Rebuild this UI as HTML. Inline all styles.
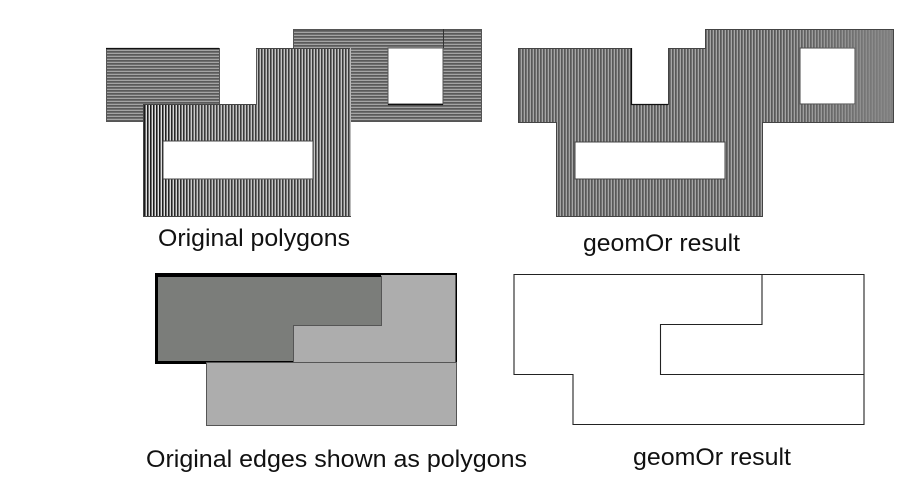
<!DOCTYPE html>
<html><head><meta charset="utf-8"><style>html,body{margin:0;padding:0;background:#fff}svg{display:block}text{font-family:"Liberation Sans",sans-serif;fill:#111;font-size:24px}</style></head><body>
<svg xmlns="http://www.w3.org/2000/svg" width="900" height="498" viewBox="0 0 900 498">
<defs>
<pattern id="h" width="3" height="3" patternUnits="userSpaceOnUse"><rect width="3" height="3" fill="#5a5a5a"/><rect y="1" width="3" height="1" fill="#6e6e6e"/><rect y="2" width="3" height="1" fill="#a4a4a4"/></pattern>
<pattern id="v" width="3" height="3" patternUnits="userSpaceOnUse"><rect width="3" height="3" fill="#1c1c1c"/><rect x="1" width="1" height="3" fill="#707070"/><rect x="2" width="1" height="3" fill="#e0e0e0"/></pattern>
<pattern id="r" width="3" height="3" patternUnits="userSpaceOnUse"><rect width="3" height="3" fill="#585858"/><rect x="1" width="1" height="3" fill="#707070"/><rect x="2" width="1" height="3" fill="#a6a6a6"/></pattern>
<linearGradient id="fade" gradientUnits="userSpaceOnUse" x1="780" y1="0" x2="893" y2="0"><stop offset="0" stop-color="#808080" stop-opacity="0"/><stop offset="1" stop-color="#848484" stop-opacity=".9"/></linearGradient>
<linearGradient id="fade2" gradientUnits="userSpaceOnUse" x1="160" y1="0" x2="200" y2="0"><stop offset="0" stop-color="#888" stop-opacity="0"/><stop offset="1" stop-color="#888" stop-opacity=".3"/></linearGradient>
</defs>

<!-- original polygons -->
<path d="M106.500 48.500H219.500V121.500H106.500Z" fill="url(#h)" stroke="#555" stroke-width="1"/>
<path fill-rule="evenodd" d="M293.500 29.500H481.500V121.500H293.500ZM388 48V104H443V48Z" fill="url(#h)" stroke="#555" stroke-width="1"/>
<path d="M443.500 29V48" stroke="#333" stroke-width="1"/>
<path d="M106 48.500H219" stroke="#111" stroke-width="1.2"/>
<path d="M388 104.500H443" stroke="#111" stroke-width="1.2"/>
<path fill-rule="evenodd" d="M143.500 104.500H256.500V48.500H350.500V216.500H143.500ZM163 141V179H313V141Z" fill="url(#v)" stroke="#444" stroke-width="1"/>
<path fill-rule="evenodd" d="M160 105H256V49H350V216H160ZM163 141V179H313V141Z" fill="url(#fade2)"/>
<path d="M163 141H313M163 141V179" fill="none" stroke="#444" stroke-width="1"/>
<path d="M350.500 48V216" stroke="#bbb" stroke-width="1"/>

<!-- geomOr result polygons -->
<path fill-rule="evenodd" d="M518.500 48.500H631.500V104.500H668.500V48.500H705.500V29.500H893.500V122.500H762.500V216.500H556.500V122.500H518.500ZM800 48V104H855V48ZM575 142V179H725V142Z" fill="url(#r)" stroke="#444" stroke-width="1"/>
<path fill-rule="evenodd" d="M780 30H893V122H780ZM800 48V104H855V48Z" fill="url(#fade)"/>
<path d="M631.500 48V104.500H668" fill="none" stroke="#111" stroke-width="1.2"/>

<!-- edges as polygons -->
<path d="M155 273H457V364H293V362.500H206V364H155Z" fill="#000"/>
<path d="M158 277H381V325H293V361H158Z" fill="#7b7d7a"/>
<path d="M381 275H455.500V362H293V325H381Z" fill="#adadad"/>
<path d="M381.500 276V325.500H293.500V362" fill="none" stroke="#555" stroke-width="1"/>
<rect x="206.500" y="362.500" width="250" height="63" fill="#adadad" stroke="#555" stroke-width="1"/>

<!-- result outline -->
<g fill="none" stroke="#222" stroke-width="1.1">
<path d="M514 274.500H864V424.500H573V374.500H514Z"/>
<path d="M762 274.500V324.500H660.500V374.500H864"/>
</g>

<text x="158" y="246" textLength="192" lengthAdjust="spacingAndGlyphs">Original polygons</text>
<text x="583" y="251" textLength="157" lengthAdjust="spacingAndGlyphs">geomOr result</text>
<text x="146" y="467" textLength="381" lengthAdjust="spacingAndGlyphs">Original edges shown as polygons</text>
<text x="633" y="465" textLength="158" lengthAdjust="spacingAndGlyphs">geomOr result</text>
</svg>
</body></html>
